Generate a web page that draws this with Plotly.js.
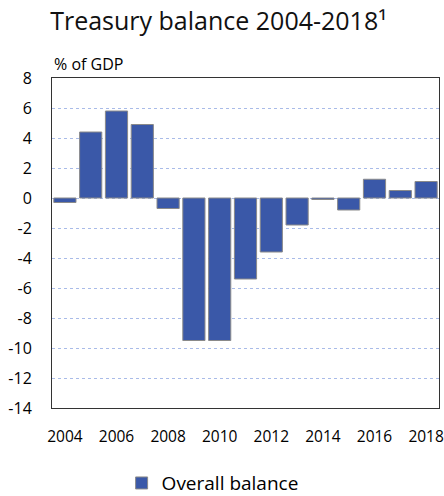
<!DOCTYPE html>
<html><head><meta charset="utf-8">
<script src="https://cdn.plot.ly/plotly-3.0.1.min.js"></script>
<style>html,body{margin:0;padding:0;background:#fff}#c{width:444px;height:496px}</style>
</head><body><div id="c"></div>
<script>
const years = [2004,2005,2006,2007,2008,2009,2010,2011,2012,2013,2014,2015,2016,2017,2018];
const overallBalance = [-0.3,4.4,5.8,4.9,-0.7,-9.5,-9.5,-5.4,-3.6,-1.8,-0.1,-0.8,1.25,0.5,1.1];
const yTicks = [8,6,4,2,0,-2,-4,-6,-8,-10,-12,-14];
const xTickLabels = [2004,2006,2008,2010,2012,2014,2016,2018];
const boundaryTicks = [2005.5,2007.5,2009.5,2011.5,2013.5,2015.5,2017.5];

const font = '"Open Sans", sans-serif';
const xr = [years[0]-0.5, years[years.length-1]+0.5];
const yr = [-14, 8];
const zeroFrac = (0 - yr[0])/(yr[1]-yr[0]);

Plotly.newPlot('c', [{
  type:'bar', x: years, y: overallBalance, name:'Overall balance',
  marker:{color:'#3a58a8', line:{color:'#8a8a8a', width:1}},
  showlegend:true
}], {
  width:444, height:496,
  margin:{l:52, r:5, t:78, b:88, autoexpand:false},
  paper_bgcolor:'#fff', plot_bgcolor:'#fff',
  bargap:0.14,
  font:{family:font, color:'#000'},
  title:{text:'Treasury balance 2004-2018¹', x:0.113, xanchor:'left', y:0.975, yanchor:'top', font:{size:25, family:font, color:'#111'}},
  xaxis:{range:xr, tickvals:xTickLabels, ticktext:xTickLabels.map(String), ticks:'', tickfont:{size:15.5}, ticklabelstandoff:14, automargin:false,
         ticklabeloverflow:'allow',
         showgrid:false, zeroline:false, showline:true, linecolor:'#333', linewidth:1, mirror:true, fixedrange:true},
  xaxis2:{range:xr, overlaying:'x', anchor:'free', position:zeroFrac, side:'bottom', showticklabels:false, automargin:false,
          tickvals:boundaryTicks, ticks:'outside', ticklen:4, tickcolor:'#444', tickwidth:1,
          showgrid:false, zeroline:false, showline:true, linecolor:'#444', linewidth:1.5},
  yaxis:{range:yr, tickvals:yTicks, ticktext:yTicks.map(String), tickfont:{size:16}, ticks:'', ticklabelstandoff:16, automargin:false,
         showgrid:true, gridcolor:'#a9bbe8', griddash:'dot', gridwidth:1, zeroline:false,
         showline:true, linecolor:'#333', linewidth:1, mirror:true, fixedrange:true},
  legend:{orientation:'h', x:0.415, xanchor:'center', yref:'container', y:0.026, yanchor:'middle', font:{size:19}, itemwidth:30},
  annotations:[{text:'% of GDP', xref:'paper', yref:'paper', x:0, y:1, xanchor:'left', yanchor:'bottom', yshift:1, showarrow:false, font:{size:16}}]
}, {displayModeBar:false, staticPlot:true});
</script></body></html>
